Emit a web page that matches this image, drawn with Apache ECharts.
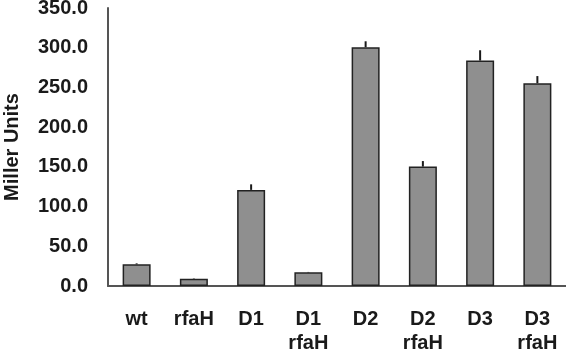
<!DOCTYPE html>
<html>
<head>
<meta charset="utf-8">
<script src="https://cdn.jsdelivr.net/npm/echarts@6/dist/echarts.min.js"></script>
<style>
  html, body { margin: 0; padding: 0; background: #fff; }
  #chartBox { width: 566px; height: 350px; }
</style>
</head>
<body>
<div id="chartBox"></div>
<script>
// strains on the x axis
const categories = ["wt", "rfaH", "D1", "D1\nrfaH", "D2", "D2\nrfaH", "D3", "D3\nrfaH"];
// mean Miller units
const millerValues = [27.3, 9.2, 121, 17.2, 300.6, 150.3, 283.8, 255.3];
// upper error (std dev)
const errorValues = [1.2, 0.5, 7, 0.5, 7.5, 7, 13, 9];

const fontFamily = '"Liberation Sans", Arial, sans-serif';

let myChart = echarts.init(document.getElementById("chartBox"));

let errData = millerValues.map((v, i) => [i, v, v + errorValues[i]]);

let option = {
  animation: false,
  backgroundColor: "#fff",
  grid: { left: 108, right: 0, top: 8, bottom: 64, outerBoundsMode: "none" },
  xAxis: {
    type: "category",
    data: categories,
    axisLine: { lineStyle: { color: "#555", width: 2 } },
    axisTick: { show: false },
    axisLabel: {
      color: "#1a1a1a",
      fontSize: 20,
      fontWeight: "bold",
      fontFamily: fontFamily,
      margin: 21,
      lineHeight: 24,
      interval: 0
    }
  },
  yAxis: {
    type: "value",
    min: 0,
    max: 350,
    interval: 50,
    name: "Miller Units",
    nameLocation: "middle",
    nameGap: 86,
    nameRotate: 90,
    nameTextStyle: {
      color: "#1a1a1a",
      fontSize: 20,
      fontWeight: "bold",
      fontFamily: fontFamily
    },
    splitLine: { show: false },
    axisTick: { show: false },
    axisLine: { show: true, lineStyle: { color: "#555", width: 2 } },
    axisLabel: {
      color: "#1a1a1a",
      fontSize: 20,
      fontWeight: "bold",
      fontFamily: fontFamily,
      margin: 20,
      formatter: (v) => v.toFixed(1)
    }
  },
  series: [
    {
      type: "bar",
      data: millerValues,
      barWidth: 28,
      itemStyle: { color: "#8f8f8f", borderColor: "#222", borderWidth: 1.5 }
    },
    {
      type: "custom",
      data: errData,
      z: 3,
      renderItem: function (params, api) {
        let lo = api.coord([api.value(0), api.value(1)]);
        let hi = api.coord([api.value(0), api.value(2)]);
        return {
          type: "line",
          shape: { x1: lo[0], y1: lo[1], x2: hi[0], y2: hi[1] },
          style: { stroke: "#1a1a1a", lineWidth: 2 }
        };
      }
    }
  ]
};

myChart.setOption(option);
</script>
</body>
</html>
